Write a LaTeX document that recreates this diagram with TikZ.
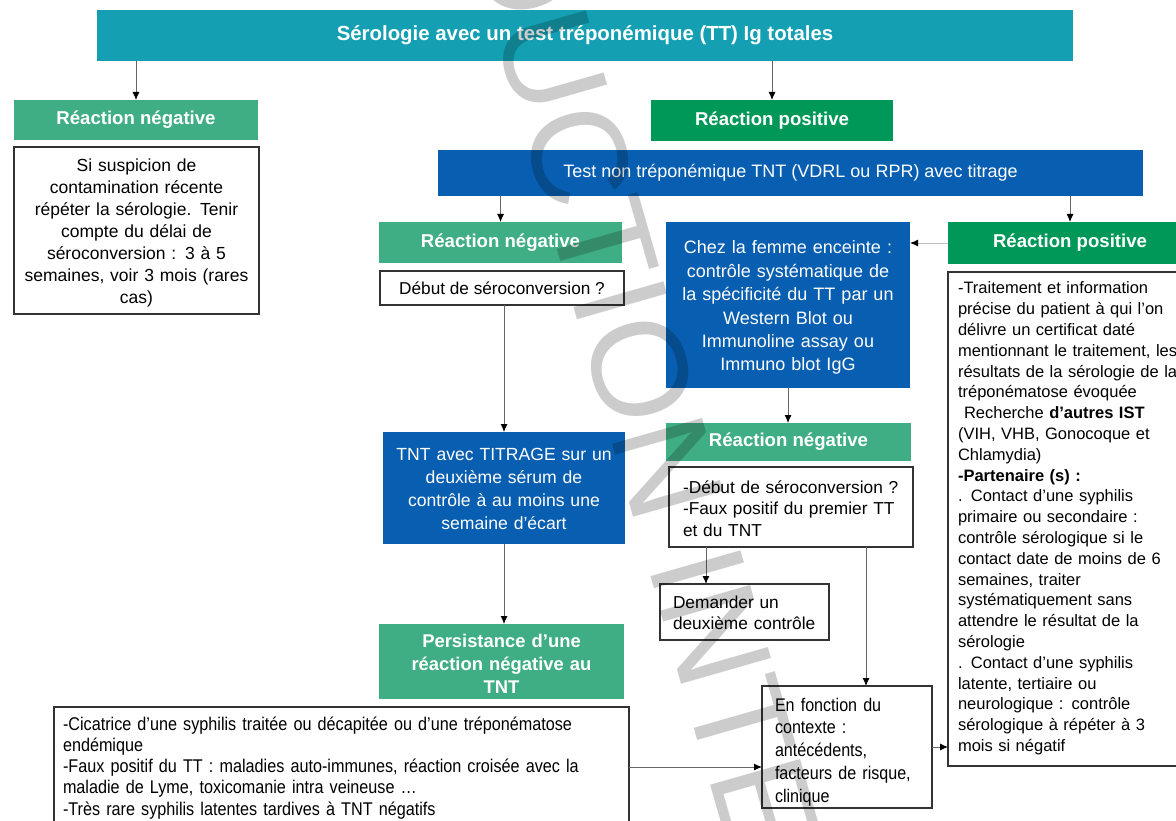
\documentclass[tikz,border=0pt]{standalone}
\usepackage{fontspec}
\setmainfont{Liberation Sans}
\newfontfamily\narrowfont[FakeStretch=0.88]{Liberation Sans}
\usetikzlibrary{arrows.meta,calc}
\definecolor{cteal}{RGB}{20,160,178}
\definecolor{cgl}{RGB}{64,174,132}
\definecolor{cgd}{RGB}{0,152,88}
\definecolor{cbl}{RGB}{8,94,176}
\begin{document}
\begin{tikzpicture}[x=1pt,y=-1pt,
  box/.style={rectangle, inner sep=0pt, outer sep=0pt},
  ttl/.style={box, fill=cteal, text=white, font=\bfseries\fontsize{20.4}{24}\selectfont, minimum width=976pt, minimum height=51pt},
  lab/.style={box, text=white, font=\bfseries\fontsize{18.6}{22}\selectfont},
  negbox/.style={lab, fill=cgl},
  posbox/.style={lab, fill=cgd},
  blu/.style={box, fill=cbl, text=white, font=\fontsize{18}{23.4}\selectfont},
  wht/.style={box, fill=white, draw=black!80, line width=1.4pt},
  arr/.style={draw=black!60, line width=0.9pt, -{Latex[length=8pt,width=7pt,color=black]}},
  wm/.style={rotate=-74, text=black, opacity=0.2, font=\fontsize{136}{136}\selectfont}
]
\useasboundingbox (0,0) rectangle (1176,821);
\fill[white] (0,0) rectangle (1176,821);

\node[ttl] (title) at (585,35.5) {Sérologie avec un test tréponémique (TT) Ig totales};

\node[negbox, minimum width=244pt, minimum height=40pt] (negL) at (136,120) {Réaction négative};
\node[wht, anchor=north, text width=245pt, align=center, text height=25pt, text depth=142pt,
      font=\fontsize{17.5}{22}\selectfont] (infoL) at (136.5,147)
  {Si suspicion de\\contamination récente\\répéter la sérologie. Tenir\\compte du délai de\\séroconversion : 3 à 5\\semaines, voir 3 mois (rares\\cas)};

\node[posbox, minimum width=242pt, minimum height=41pt] (posT) at (772,120.5) {Réaction positive};
\node[blu, minimum width=705pt, minimum height=46pt] (tnt) at (790.5,173) {Test non tréponémique TNT (VDRL ou RPR) avec titrage};

\node[negbox, minimum width=243pt, minimum height=41pt] (negM) at (500.5,242.5) {Réaction négative};
\node[wht, minimum width=244pt, minimum height=34pt, font=\fontsize{17.2}{20}\selectfont] (debut) at (502,288) {Début de séroconversion ?};

\node[blu, anchor=north, text width=244pt, align=center, text height=32pt, text depth=134pt] (femme) at (788,222)
  {Chez la femme enceinte :\\contrôle systématique de\\la spécificité du TT par un\\Western Blot ou\\Immunoline assay ou\\Immuno blot IgG};

\node[posbox, minimum width=244pt, minimum height=42pt] (posR) at (1070,243) {Réaction positive};
\node[wht, anchor=north west, text width=230pt, inner xsep=10pt, align=left, text height=22pt, text depth=472pt,
      font=\fontsize{16.5}{20.8}\selectfont] (rbox) at (948,272)
  {-Traitement et information\\précise du patient à qui l’on\\délivre un certificat daté\\mentionnant le traitement, les\\résultats de la sérologie de la\\tréponématose évoquée\\\hspace*{6pt}Recherche \textbf{d’autres IST}\\(VIH, VHB, Gonocoque et\\Chlamydia)\\\textbf{-Partenaire (s) :}\\. Contact d’une syphilis\\primaire ou secondaire :\\contrôle sérologique si le\\contact date de moins de 6\\semaines, traiter\\systématiquement sans\\attendre le résultat de la\\sérologie\\. Contact d’une syphilis\\latente, tertiaire ou\\neurologique : contrôle\\sérologique à répéter à 3\\mois si négatif};

\node[blu, anchor=north, text width=242pt, align=center, text height=28pt, text depth=84pt,
      font=\fontsize{17.6}{23.3}\selectfont] (titrage) at (504,432)
  {TNT avec TITRAGE sur un\\deuxième sérum de\\contrôle à au moins une\\semaine d’écart};

\node[negbox, minimum width=245pt, minimum height=38pt] (negM2) at (788.5,442) {Réaction négative};
\node[wht, anchor=north west, text width=216pt, inner xsep=14pt, align=left, text height=26pt, text depth=54pt,
      font=\fontsize{17.3}{21.5}\selectfont] (faux) at (669,467)
  {-Début de séroconversion ?\\-Faux positif du premier TT\\et du TNT};

\node[wht, anchor=north west, text width=143pt, inner xsep=13pt, align=left, text height=24pt, text depth=32pt,
      font=\fontsize{17.3}{21}\selectfont] (demander) at (660,584)
  {Demander un\\deuxième contrôle};

\node[negbox, anchor=north, text width=245pt, align=center, text height=23pt, text depth=52pt,
      font=\bfseries\fontsize{18.4}{23}\selectfont] (persist) at (501.5,624)
  {Persistance d’une\\réaction négative au\\TNT};

\node[wht, anchor=north west, text width=557pt, inner xsep=9pt, align=left, text height=23pt, text depth=107pt,
      font=\narrowfont\fontsize{18.4}{21.25}\selectfont] (bottom) at (54,707)
  {-Cicatrice d’une syphilis traitée ou décapitée ou d’une tréponématose\\endémique\\-Faux positif du TT : maladies auto-immunes, réaction croisée avec la\\maladie de Lyme, toxicomanie intra veineuse …\\-Très rare syphilis latentes tardives à TNT négatifs};

\node[wht, anchor=north west, text width=144pt, inner xsep=13pt, align=left, text height=25pt, text depth=97pt,
      font=\narrowfont\fontsize{18.3}{22.75}\selectfont] (ctx) at (762,686)
  {En fonction du\\contexte :\\antécédents,\\facteurs de risque,\\clinique};

% connectors
\draw[arr] (negL.north |- title.south) -- (negL.north);
\draw[arr] (posT.north |- title.south) -- (posT.north);
\draw[arr] (negM.north |- tnt.south) -- (negM.north);
\draw[arr] (posR.north |- tnt.south) -- (posR.north);
\draw[arr, draw=black!25] (posR.west) -- (posR.west -| femme.east);
\draw[arr] (titrage.north |- debut.south) -- (titrage.north);
\draw[arr] (titrage.south) -- (titrage.south |- persist.north);
\draw[arr] (femme.south) -- (femme.south |- negM2.north);
\coordinate (dn) at ($(demander.north west)!0.272!(demander.north east)$);
\draw[arr] (dn |- faux.south) -- (dn);
\coordinate (cn) at ($(ctx.north west)!0.612!(ctx.north east)$);
\draw[arr] (cn |- faux.south) -- (cn);
\coordinate (cw) at ($(ctx.north west)!0.664!(ctx.south west)$);
\draw[arr] (cw -| bottom.east) -- (cw);
\draw[arr] (ctx.east) -- (ctx.east -| rbox.west);

% watermark
\node[wm] (wmark) at (634,348) {REPRODUCTION INTERDITE};
\end{tikzpicture}
\end{document}
